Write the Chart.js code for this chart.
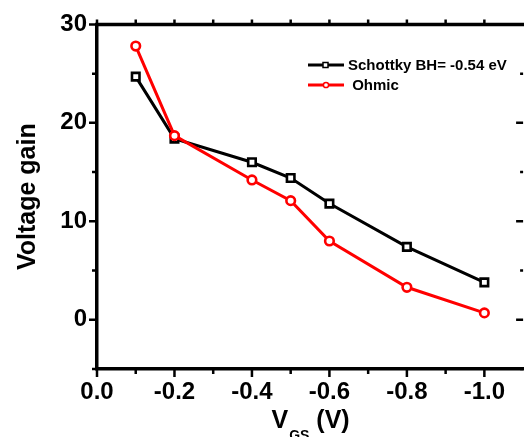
<!DOCTYPE html>
<html>
<head>
<meta charset="utf-8">
<script src="https://cdn.jsdelivr.net/npm/chart.js@4.4.0/dist/chart.umd.min.js"></script>
<style>
html, body { margin: 0; padding: 0; background: #fff; overflow: hidden; width: 524px; height: 437px; }
canvas { display: block; }
</style>
</head>
<body>
<!-- a bit wider than the window: the right frame of the plot falls just outside the picture -->
<canvas id="gainChart" width="531" height="437"></canvas>
<script>
const vgs = [-0.1, -0.2, -0.4, -0.5, -0.6, -0.8, -1.0];
const schottkyGain = [24.7, 18.4, 16.0, 14.4, 11.8, 7.4, 3.8];
const ohmicGain = [27.8, 18.7, 14.2, 12.1, 8.0, 3.3, 0.7];
const seriesLabels = ['Schottky BH= -0.54 eV', ' Ohmic'];
const xTicks = [0, -0.2, -0.4, -0.6, -0.8, -1.0];
const xMinorTicks = [-0.1, -0.3, -0.5, -0.7, -0.9];
const yTicks = [0, 10, 20, 30];
const yMinorTicks = [-5, 5, 15, 25];

const FONT = '"Liberation Sans", Arial, sans-serif';

// tick marks on all four sides, top frame line, x title with subscript, legend
const frameTicks = {
    id: 'frameTicks',
    afterDraw(chart) {
        const ctx = chart.ctx;
        const a = chart.chartArea;
        const x = chart.scales.x;
        const y = chart.scales.y;
        ctx.save();
        ctx.strokeStyle = '#000';
        ctx.lineWidth = 3.5;
        ctx.beginPath();
        ctx.moveTo(a.left - 2, a.top);
        ctx.lineTo(a.right + 2, a.top);
        ctx.stroke();

        ctx.lineWidth = 2.5;
        ctx.beginPath();
        const seg = (x1, y1, x2, y2) => { ctx.moveTo(x1, y1); ctx.lineTo(x2, y2); };
        xTicks.forEach(v => {
            const px = x.getPixelForValue(v);
            seg(px, a.bottom, px, a.bottom + 8);
            seg(px, a.top, px, a.top - 5);
        });
        xMinorTicks.forEach(v => {
            const px = x.getPixelForValue(v);
            seg(px, a.bottom, px, a.bottom + 5);
            seg(px, a.top, px, a.top - 5);
        });
        yTicks.forEach(v => {
            const py = y.getPixelForValue(v);
            seg(a.left, py, a.left - 8, py);
            seg(a.right, py, a.right - 7, py);
        });
        yMinorTicks.forEach(v => {
            const py = y.getPixelForValue(v);
            seg(a.left, py, a.left - 5, py);
            seg(a.right, py, a.right - 3, py);
        });
        ctx.stroke();

        // x axis title: V_GS (V)
        ctx.fillStyle = '#000';
        ctx.textBaseline = 'alphabetic';
        ctx.textAlign = 'left';
        const big = 'bold 25px ' + FONT;
        const small = 'bold 14px ' + FONT;
        ctx.font = big;
        const wV = ctx.measureText('V').width;
        const wRest = ctx.measureText(' (V)').width;
        ctx.font = small;
        const wSub = ctx.measureText('GS').width;
        let tx = (a.left + a.right) / 2 - (wV + wSub + wRest) / 2;
        const base = 428;
        ctx.font = big;
        ctx.fillText('V', tx, base);
        tx += wV + 1;
        ctx.font = small;
        ctx.fillText('GS', tx, base + 12);
        tx += wSub;
        ctx.font = big;
        ctx.fillText(' (V)', tx, base);

        // legend
        const rows = [65, 85];
        ctx.font = 'bold 15px ' + FONT;
        ctx.textBaseline = 'middle';
        chart.data.datasets.forEach((ds, i) => {
            const ly = rows[i];
            ctx.strokeStyle = ds.borderColor;
            ctx.lineWidth = 3;
            ctx.beginPath();
            ctx.moveTo(308, ly);
            ctx.lineTo(344, ly);
            ctx.stroke();
            ctx.lineWidth = 1.5;
            ctx.fillStyle = '#fff';
            ctx.beginPath();
            if (ds.pointStyle === 'rect') {
                ctx.rect(323, ly - 2.5, 5, 5);
            } else {
                ctx.arc(326, ly, 2.6, 0, Math.PI * 2);
            }
            ctx.fill();
            ctx.stroke();
            ctx.fillStyle = '#000';
            ctx.fillText(ds.label, 348, ly + 1);
        });
        ctx.restore();
    }
};

const toPoints = ys => vgs.map((v, i) => ({ x: v, y: ys[i] }));

new Chart(document.getElementById('gainChart'), {
    type: 'line',
    data: {
        datasets: [{
            label: seriesLabels[0],
            data: toPoints(schottkyGain),
            borderColor: '#000',
            borderWidth: 3,
            pointStyle: 'rect',
            pointRadius: 5.3,
            pointBorderWidth: 2.6,
            pointBackgroundColor: '#fff',
            pointBorderColor: '#000',
            order: 2
        }, {
            label: seriesLabels[1],
            data: toPoints(ohmicGain),
            borderColor: '#f00',
            borderWidth: 3,
            pointStyle: 'circle',
            pointRadius: 4.3,
            pointBorderWidth: 2.6,
            pointBackgroundColor: '#fff',
            pointBorderColor: '#f00',
            order: 1
        }]
    },
    options: {
        responsive: false,
        animation: false,
        layout: { padding: { top: 23, right: 0, left: 0, bottom: 0 } },
        plugins: { legend: { display: false }, tooltip: { enabled: false } },
        elements: { line: { tension: 0 } },
        scales: {
            x: {
                type: 'linear',
                position: 'bottom',
                min: -1.1,
                max: 0,
                reverse: true,
                grid: { display: false, drawTicks: false },
                border: { display: true, color: '#000', width: 3.5 },
                ticks: {
                    color: '#000',
                    font: { family: FONT, size: 24, weight: 'bold' },
                    padding: 9,
                    maxRotation: 0,
                    autoSkip: false,
                    callback: v => v.toFixed(1)
                },
                afterBuildTicks: s => { s.ticks = xTicks.map(v => ({ value: v })); },
                afterFit: s => { s.height = 68; }
            },
            y: {
                type: 'linear',
                position: 'left',
                min: -5,
                max: 30,
                grid: { display: false, drawTicks: false },
                border: { display: true, color: '#000', width: 3.5 },
                ticks: {
                    color: '#000',
                    font: { family: FONT, size: 24, weight: 'bold' },
                    padding: 10
                },
                afterBuildTicks: s => { s.ticks = yTicks.map(v => ({ value: v })); },
                afterFit: s => { s.width = 97; },
                title: {
                    display: true,
                    text: 'Voltage gain',
                    color: '#000',
                    font: { family: FONT, size: 25, weight: 'bold' },
                    padding: { top: 13, bottom: 0 }
                }
            }
        }
    },
    plugins: [frameTicks]
});
</script>
</body>
</html>
